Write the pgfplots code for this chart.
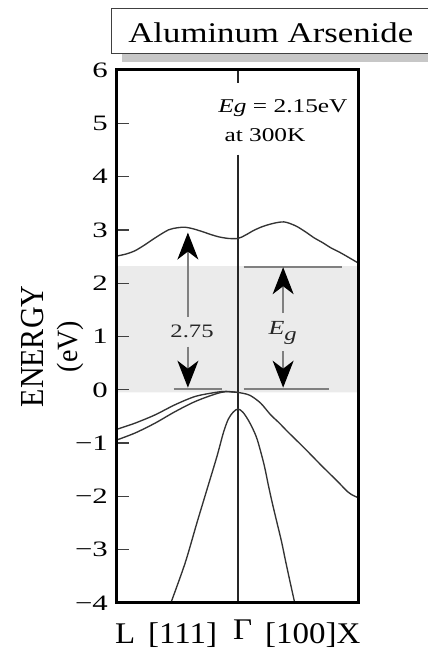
\documentclass[border=0pt]{standalone}
\usepackage{fontspec}
\setmainfont{Liberation Serif}
\newfontfamily\fTick{Liberation Serif}[FakeStretch=1.4]
\newfontfamily\fTitle{Liberation Serif}[FakeStretch=1.22]
\newfontfamily\fX{Liberation Serif}[FakeStretch=1.1]
\newfontfamily\fAnn{Liberation Serif}[FakeStretch=1.3]
\usepackage{pgfplots}
\pgfplotsset{compat=1.18}
\usetikzlibrary{arrows.meta}

\pgfplotstableread{
x E
-1 2.51
-0.92 2.55
-0.85 2.61
-0.77 2.72
-0.685 2.85
-0.575 3.00
-0.5 3.04
-0.437 3.05
-0.37 3.02
-0.298 2.97
-0.22 2.91
-0.16 2.87
-0.08 2.84
0 2.84
0.06 2.90
0.13 2.99
0.2 3.06
0.27 3.11
0.33 3.14
0.38 3.15
0.43 3.12
0.49 3.06
0.56 2.96
0.63 2.85
0.70 2.76
0.77 2.66
0.84 2.58
0.91 2.49
1.0 2.37
}\cband

\pgfplotstableread{
x E
-1 -0.74
-0.85 -0.625
-0.685 -0.47
-0.52 -0.28
-0.354 -0.125
-0.188 -0.05
-0.10 -0.03
0 -0.05
}\vbandA

\pgfplotstableread{
x E
-1 -0.94
-0.85 -0.81
-0.685 -0.625
-0.52 -0.41
-0.354 -0.22
-0.188 -0.08
-0.10 -0.035
0 -0.05
}\vbandB

\pgfplotstableread{
x E
0 -0.05
0.05 -0.07
0.104 -0.11
0.187 -0.25
0.27 -0.47
0.34 -0.62
0.408 -0.78
0.547 -1.09
0.685 -1.41
0.823 -1.72
0.905 -1.91
0.95 -1.98
0.99 -2.02
}\vbandX

\pgfplotstableread{
x E
-0.555 -4.0
-0.437 -3.25
-0.34 -2.5
-0.257 -1.875
-0.174 -1.25
-0.12 -0.80
-0.08 -0.55
-0.04 -0.42
0 -0.36
0.04 -0.42
0.08 -0.55
0.12 -0.72
0.16 -0.94
0.215 -1.40
0.25 -1.78
0.284 -2.13
0.323 -2.5
0.36 -2.85
0.392 -3.2
0.43 -3.6
0.469 -4.0
}\soband

\begin{document}
\begin{tikzpicture}
\useasboundingbox (-117pt,-48pt) rectangle (311pt,603pt);
% title box
\fill[black!22] (4.7pt,541pt) rectangle (340pt,549.7pt);
\draw[black!75, line width=0.9pt, fill=white] (-5.3pt,549.7pt) rectangle (340pt,594.7pt);
\node[anchor=base, inner sep=0pt] at (153.8pt,560.3pt) {\fTitle\fontsize{28.5}{30}\selectfont Aluminum Arsenide};
\begin{axis}[
  at={(0pt,0pt)}, anchor=south west,
  scale only axis, width=242pt, height=533pt,
  xmin=-1, xmax=1, ymin=-4, ymax=6,
  axis on top,
  axis line style={line width=3pt, black},
  xtick=\empty,
  ytick={-4,-3,-2,-1,0,1,2,3,4,5,6},
  yticklabels={−4,−3,−2,−1,0,1,2,3,4,5,6},
  ytick pos=left, tick align=inside,
  major tick length=12pt,
  tick style={line width=1.3pt, black!75},
  /pgf/number format/assume math mode=true,
  yticklabel style={font=\fTick\fontsize{22}{22}\selectfont, inner sep=0pt, xshift=-9pt},
]
% band gap shading
\addplot[fill=black!8, draw=none] coordinates {(-1,-0.05) (1,-0.05) (1,2.32) (-1,2.32) (-1,-0.05)};
% Gamma line
\addplot[black!85, line width=1.5pt] coordinates {(0,6) (0,5.76)};
\addplot[black!85, line width=1.5pt] coordinates {(0,4.41) (0,-4)};
% bands
\addplot[black!80, line width=1.35pt, smooth] table[x=x,y=E] {\cband};
\addplot[black!80, line width=1.35pt, smooth] table[x=x,y=E] {\vbandA};
\addplot[black!80, line width=1.35pt, smooth] table[x=x,y=E] {\vbandB};
\addplot[black!80, line width=1.35pt, smooth] table[x=x,y=E] {\vbandX};
\addplot[black!80, line width=1.35pt, smooth] table[x=x,y=E] {\soband};
% level lines
\addplot[black!50, line width=1.8pt] coordinates {(-0.533,0.02) (-0.133,0.02)};
\addplot[black!50, line width=1.8pt] coordinates {(0.047,0.02) (0.751,0.02)};
\addplot[black!50, line width=1.8pt] coordinates {(0.047,2.31) (0.862,2.31)};
% arrows
\addplot[black!50, line width=1.4pt, -{Stealth[length=27pt,width=21pt,inset=8pt,color=black]}] coordinates {(-0.414,1.37) (-0.414,2.95)};
\addplot[black!50, line width=1.4pt, -{Stealth[length=27pt,width=21pt,inset=8pt,color=black]}] coordinates {(-0.414,0.81) (-0.414,0.04)};
\addplot[black!50, line width=1.4pt, -{Stealth[length=27pt,width=21pt,inset=8pt,color=black]}] coordinates {(0.373,1.44) (0.373,2.30)};
\addplot[black!50, line width=1.4pt, -{Stealth[length=27pt,width=21pt,inset=8pt,color=black]}] coordinates {(0.373,0.72) (0.373,0.04)};
% annotations
\node[anchor=base, inner sep=0pt, text=black!85] at (axis cs:-0.38,0.99) {\fAnn\fontsize{19}{20}\selectfont 2.75};
\node[anchor=base west, inner sep=0pt, text=black!85] at (axis cs:0.251,1.03) {\fAnn\fontsize{20}{20}\selectfont\itshape E\raisebox{-6pt}{\fontsize{19}{20}\selectfont g}};
\node[anchor=base west, inner sep=0pt] at (axis cs:-0.163,5.21) {\fAnn\fontsize{19.5}{20}\selectfont\textit{Eg} = 2.15eV};
\node[anchor=base west, inner sep=0pt] at (axis cs:-0.113,4.66) {\fAnn\fontsize{19.5}{20}\selectfont at 300K};
\end{axis}
% y label
\node[rotate=90, anchor=base, inner sep=0pt] at (-73pt,256.5pt) {\fontsize{30}{30}\selectfont\scalebox{1}[1.12]{ENERGY}};
\node[rotate=90, anchor=base, inner sep=0pt] at (-39pt,256.5pt) {\fontsize{28}{30}\selectfont\scalebox{1}[1.05]{(eV)}};
% x label
\node[anchor=base west, inner sep=0pt] at (-2pt,-40pt) {\fX\fontsize{30}{30}\selectfont L};
\node[anchor=base west, inner sep=0pt] at (31pt,-40pt) {\fX\fontsize{30}{30}\selectfont [111]};
\node[anchor=base west, inner sep=0pt] at (116pt,-37pt) {\fX\fontsize{30}{30}\selectfont Γ};
\node[anchor=base west, inner sep=0pt] at (148pt,-40pt) {\fX\fontsize{30}{30}\selectfont [100]X};
\end{tikzpicture}
\end{document}
